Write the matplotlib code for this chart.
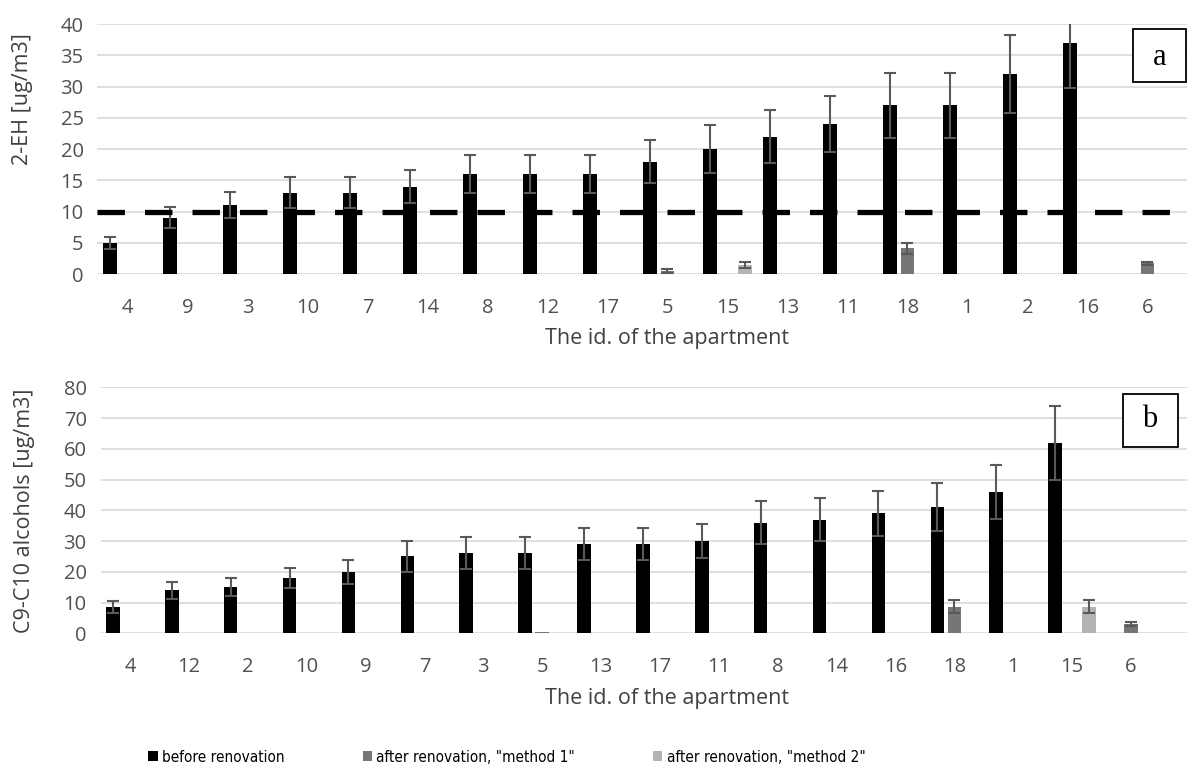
import matplotlib.pyplot as plt
from matplotlib.patches import Rectangle
import numpy as np

nan = np.nan

# panel a: 2-EH
ids_a = ["4", "9", "3", "10", "7", "14", "8", "12", "17", "5", "15", "13", "11", "18", "1", "2", "16", "6"]
before_a = [5, 9, 11, 13, 13, 14, 16, 16, 16, 18, 20, 22, 24, 27, 27, 32, 37, nan]
before_a_err = [1, 1.7, 2.1, 2.5, 2.5, 2.7, 3, 3, 3, 3.5, 3.8, 4.3, 4.5, 5.2, 5.2, 6.2, 7.2, nan]
m1_a = [nan, nan, nan, nan, nan, nan, nan, nan, nan, 0.5, nan, nan, nan, 4.1, nan, nan, nan, 1.7]
m1_a_err = [nan, nan, nan, nan, nan, nan, nan, nan, nan, 0.3, nan, nan, nan, 0.9, nan, nan, nan, 0.3]
m2_a = [nan, nan, nan, nan, nan, nan, nan, nan, nan, nan, 1.5, nan, nan, nan, nan, nan, nan, nan]
m2_a_err = [nan, nan, nan, nan, nan, nan, nan, nan, nan, nan, 0.5, nan, nan, nan, nan, nan, nan, nan]
limit_a = 10

# panel b: C9-C10 alcohols
ids_b = ["4", "12", "2", "10", "9", "7", "3", "5", "13", "17", "11", "8", "14", "16", "18", "1", "15", "6"]
before_b = [8.6, 14, 15, 18, 20, 25, 26, 26, 29, 29, 30, 36, 37, 39, 41, 46, 62, nan]
before_b_err = [2, 2.7, 2.9, 3.4, 3.8, 5, 5.2, 5.2, 5.3, 5.3, 5.6, 7, 7, 7.4, 7.8, 8.7, 12, nan]
m1_b = [nan, nan, nan, nan, nan, nan, nan, 0.4, nan, nan, nan, nan, nan, nan, 8.6, nan, nan, 3.0]
m1_b_err = [nan, nan, nan, nan, nan, nan, nan, nan, nan, nan, nan, nan, nan, nan, 2.1, nan, nan, 0.6]
m2_b = [nan, nan, nan, nan, nan, nan, nan, nan, nan, nan, nan, nan, nan, nan, nan, nan, 8.6, nan]
m2_b_err = [nan, nan, nan, nan, nan, nan, nan, nan, nan, nan, nan, nan, nan, nan, nan, nan, 2.1, nan]

labels = ["before renovation", 'after renovation, "method 1"', 'after renovation, "method 2"']
colors = ["#000000", "#767676", "#b4b4b4"]

plt.rcParams['font.family'] = ['Open Sans', 'DejaVu Sans']

fig = plt.figure(figsize=(11.87, 7.82), dpi=100)
ax1 = fig.add_axes([0.0821, 0.6496, 0.9179, 0.3197])
ax2 = fig.add_axes([0.0847, 0.1901, 0.9153, 0.3146])

w = 0.23
off = 0.29


def panel(ax, ids, series, errs, ymax, ystep, ylabel, xlim_r, ylab_x, ylab_y, xlab_x, xlab_y, tag, box, tag_xy):
    x = np.arange(len(ids))
    for i, (vals, err) in enumerate(zip(series, errs)):
        vals = np.array(vals, dtype=float)
        err = np.array(err, dtype=float)
        pos = x + (i - 1) * off
        ax.bar(pos, np.nan_to_num(vals), w, color=colors[i], label=labels[i], zorder=2)
        ok = np.isfinite(vals) & np.isfinite(err)
        ax.errorbar(pos[ok], vals[ok], yerr=err[ok], fmt='none', ecolor='#595959',
                    elinewidth=1.5, capsize=4.5, capthick=1.5, zorder=3)
    ax.set_xlim(-0.5, xlim_r)
    ax.set_ylim(0, ymax)
    ax.set_yticks(np.arange(0, ymax + 1, ystep))
    ax.set_xticks(x)
    ax.set_xticklabels(ids)
    ax.grid(axis='y', color='#d9d9d9', linewidth=1.2, zorder=0)
    ax.set_axisbelow(True)
    for s in ax.spines.values():
        s.set_visible(False)
    ax.tick_params(axis='both', length=0, labelsize=14.5, labelcolor='#505050')
    ax.tick_params(axis='x', pad=17)
    ax.tick_params(axis='y', pad=10)
    ax.set_ylabel(ylabel, fontsize=15.5, color='#404040')
    ax.yaxis.set_label_coords(ylab_x, ylab_y)
    ax.set_xlabel("The id. of the apartment", fontsize=15.5, color='#404040')
    ax.xaxis.set_label_coords(xlab_x, xlab_y)
    ax.add_patch(Rectangle((box[0], box[1]), box[2] - box[0], box[3] - box[1], transform=ax.transAxes,
                           facecolor='white', edgecolor='black', linewidth=1.3, zorder=5, clip_on=False))
    ax.text(tag_xy[0], tag_xy[1], tag, transform=ax.transAxes, family='Liberation Serif',
            fontsize=22, ha='center', va='center', zorder=6)


panel(ax1, ids_a, [before_a, m1_a, m2_a], [before_a_err, m1_a_err, m2_a_err],
      40, 5, "2-EH [ug/m3]", 17.66, -0.059, 0.70, 0.523, -0.216, "a",
      (0.9504, 0.768, 0.999, 0.98), (0.975, 0.868))
ax1.axhline(limit_a, color='black', linewidth=3.8, dashes=(5.2, 3.8), zorder=4)

panel(ax2, ids_b, [before_b, m1_b, m2_b], [before_b_err, m1_b_err, m2_b_err],
      80, 10, "C9-C10 alcohols [ug/m3]", 17.95, -0.060, 0.5, 0.521, -0.222, "b",
      (0.9411, 0.757, 0.9917, 0.973), (0.966, 0.868))

handles, labs = ax1.get_legend_handles_labels()
fig.legend(handles, labs, loc='center', bbox_to_anchor=(507 / 1187, 1 - 757 / 782), ncol=3,
           frameon=False, handlelength=0.6, handleheight=0.6, handletextpad=0.3,
           columnspacing=5.1,
           prop={'family': 'DejaVu Sans', 'stretch': 'condensed', 'size': 11})

fig.savefig("out.png", dpi=100)
